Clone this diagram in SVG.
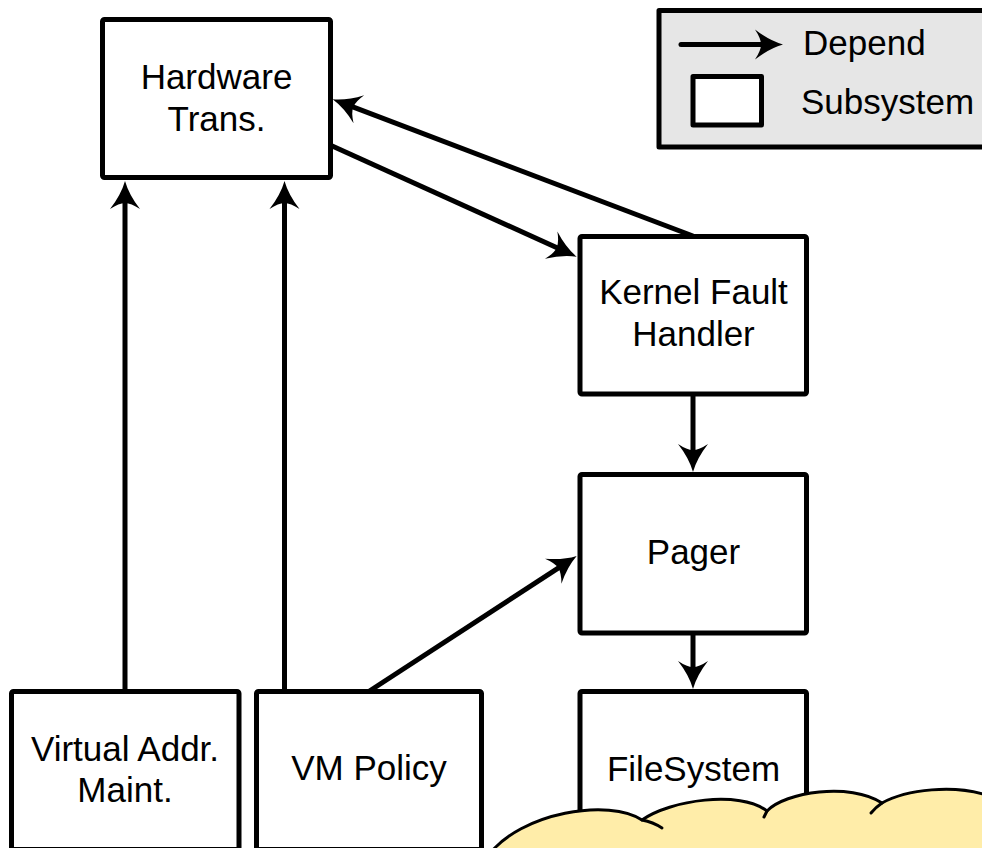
<svg xmlns="http://www.w3.org/2000/svg" width="982" height="848" viewBox="0 0 982 848">
  <style>
    .box { fill: #ffffff; stroke: #000000; stroke-width: 5; stroke-linejoin: round; }
    .label { font-family: "Liberation Sans", Arial, sans-serif; font-size: 35px; fill: #000000; text-anchor: middle; }
    .legend-text { font-family: "Liberation Sans", Arial, sans-serif; font-size: 35px; fill: #000000; }
    .edge { stroke: #000000; stroke-width: 5; fill: none; marker-end: url(#arrow); }
    .cloud { fill: #ffeda9; stroke: #000000; stroke-width: 3; stroke-linejoin: round; }
    .cloud-line { fill: none; stroke: #000000; stroke-width: 3; stroke-linecap: round; }
  </style>
  <defs>
    <!-- swept arrowhead; origin sits at the shaft end, tip 18 units ahead -->
    <marker id="arrow" markerUnits="userSpaceOnUse" orient="auto" refX="0" refY="0" markerWidth="60" markerHeight="60" overflow="visible">
      <path d="M 18 0 Q 4 -4 -10 -15 Q -4 -6 -4 0 Q -4 6 -10 15 Q 4 4 18 0 Z" fill="#000000"/>
    </marker>
  </defs>

  <rect width="982" height="848" fill="#ffffff"/>

  <!-- legend -->
  <g id="legend">
    <rect x="659" y="10.5" width="340" height="136.5" fill="#e6e6e6" stroke="#000000" stroke-width="5" stroke-linejoin="round"/>
    <line x1="681" y1="44.5" x2="765" y2="44.5" stroke="#000000" stroke-width="5" stroke-linecap="round" marker-end="url(#arrow)"/>
    <text class="legend-text" x="803" y="55">Depend</text>
    <rect class="box" x="693" y="76.5" width="68.5" height="48.5"/>
    <text class="legend-text" x="801" y="114">Subsystem</text>
  </g>

  <!-- dependency connectors -->
  <g id="connectors">
    <line class="edge" x1="125" y1="691" x2="125" y2="199"/>
    <line class="edge" x1="284.5" y1="691" x2="284.5" y2="199"/>
    <line class="edge" x1="369.5" y1="691" x2="561.6" y2="565.8"/>
    <line class="edge" x1="693" y1="236" x2="349.5" y2="105.7"/>
    <line class="edge" x1="330" y1="145" x2="560.3" y2="249.3"/>
    <line class="edge" x1="693" y1="394" x2="693" y2="454"/>
    <line class="edge" x1="693" y1="633" x2="693" y2="671"/>
  </g>

  <!-- subsystems -->
  <g id="hardware-trans">
    <rect class="box" x="102.5" y="19.5" width="228" height="158" rx="2"/>
    <text class="label" x="216.5" y="89">Hardware</text>
    <text class="label" x="216.5" y="130.5">Trans.</text>
  </g>

  <g id="kernel-fault-handler">
    <rect class="box" x="580" y="236.5" width="226.5" height="157.5" rx="2"/>
    <text class="label" x="693.5" y="304">Kernel Fault</text>
    <text class="label" x="693.5" y="346">Handler</text>
  </g>

  <g id="pager">
    <rect class="box" x="580" y="474.5" width="226.5" height="158.5" rx="2"/>
    <text class="label" x="693.5" y="564">Pager</text>
  </g>

  <g id="filesystem">
    <rect class="box" x="580" y="691.5" width="226.5" height="158" rx="2"/>
    <text class="label" x="693.5" y="781">FileSystem</text>
  </g>

  <g id="virtual-addr-maint">
    <rect class="box" x="11.5" y="691.5" width="227.5" height="158" rx="2"/>
    <text class="label" x="125" y="761">Virtual Addr.</text>
    <text class="label" x="125" y="802">Maint.</text>
  </g>

  <g id="vm-policy">
    <rect class="box" x="256.5" y="691.5" width="225" height="158" rx="2"/>
    <text class="label" x="369" y="780">VM Policy</text>
  </g>

  <!-- cloud callout in the lower right corner -->
  <g id="cloud">
    <path class="cloud" d="M 488 856 C 520 812, 610 798, 642 820 C 670 800, 740 790, 767 811 C 785 792, 850 782, 882 803 C 905 790, 955 783, 992 797 L 992 860 L 488 860 Z"/>
    <path class="cloud-line" d="M 642 820 Q 653 822 662 828"/>
    <path class="cloud-line" d="M 767 811 L 764 817"/>
    <path class="cloud-line" d="M 882 803 Q 876 807 871 813"/>
  </g>
</svg>
